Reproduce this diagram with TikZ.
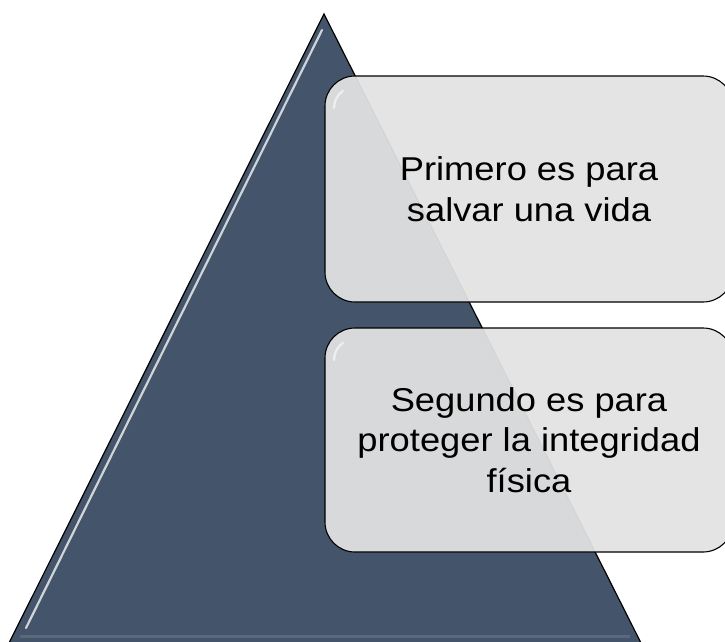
\documentclass[tikz,border=0pt]{standalone}
\usepackage{fontspec}
\newfontfamily\boxfont[FakeStretch=1.1]{Liberation Sans}
\definecolor{tri}{RGB}{68,84,106}
\definecolor{boxgray}{RGB}{226,226,226}
\begin{document}
\begin{tikzpicture}[x=1pt,y=-1pt,
  tbox/.style={draw=black, line width=1.1pt, fill=boxgray, fill opacity=0.94, text opacity=1,
    rounded corners=30pt, minimum width=408pt, minimum height=226pt, align=center,
    font=\boxfont\fontsize{33}{40.7}\selectfont, inner sep=0pt, text=black},
  edge/.style={draw=black, line width=1.2pt},
  gloss/.style={draw=white, line width=2.2pt, line cap=round, opacity=0.75}]
\useasboundingbox (0,0) rectangle (725,641);
% triangle
\coordinate (apex) at (324,14);
\coordinate (bl) at (8,645);
\coordinate (br) at (642,645);
\fill[tri] (apex) -- (bl) -- (br) -- cycle;
\draw[gloss] (322,30) -- (26,628);
\draw[white, opacity=0.12, line width=3pt] (20,636) -- (630,636);
\draw[edge] (bl) -- (apex) -- (br);
% boxes
\node[tbox] (b1) at (529,189) {Primero es para\\salvar una vida};
\node[tbox, minimum height=224pt] (b2) at (529,440) {Segundo es para\\proteger la integridad\\física};
% box highlights
\draw[gloss, opacity=0.6] (334,108) arc[start angle=180, end angle=235, radius=21];
\draw[gloss, opacity=0.6] (334,360) arc[start angle=180, end angle=235, radius=21];
\end{tikzpicture}
\end{document}
